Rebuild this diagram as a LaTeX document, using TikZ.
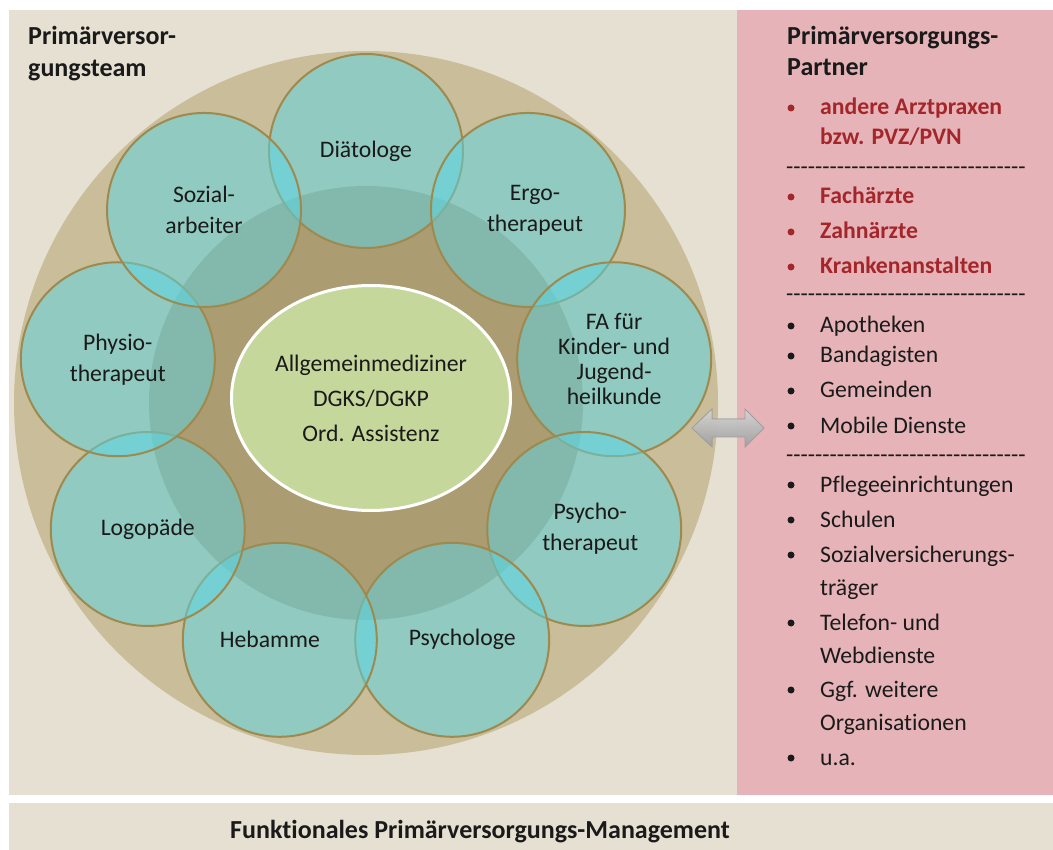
\documentclass[tikz,border=0pt]{standalone}
\usepackage{fontspec}
\setmainfont{Carlito}[Ligatures={NoCommon}]
\usetikzlibrary{shapes.geometric,calc}
\definecolor{panel}{HTML}{E6E0D2}
\definecolor{pinkp}{HTML}{E6B4B8}
\definecolor{ringtan}{HTML}{C9BD9A}
\definecolor{innertan}{HTML}{AB9C72}
\definecolor{tealc}{RGB}{90,215,230}
\definecolor{gold}{HTML}{9E8A4E}
\definecolor{hubgreen}{HTML}{C5D79B}
\definecolor{ink}{HTML}{1A1A1A}
\definecolor{redtext}{HTML}{A3262A}
\newcommand\hy{-\kern0pt}
\newcommand\hyrow{\hy\hy\hy\hy\hy\hy\hy\hy\hy\hy\hy\hy\hy\hy\hy\hy\hy\hy\hy\hy\hy\hy\hy\hy\hy\hy\hy\hy\hy\hy\hy\hy\hy}
\tikzset{
  member/.style={circle, minimum size=194pt, inner sep=0pt, fill=tealc, fill opacity=0.5,
    text opacity=1, draw=gold, line width=2pt, align=center, text=ink,
    font=\fontsize{23.7}{31}\selectfont},
  hub/.style={ellipse, minimum width=279pt, minimum height=225pt, inner sep=0pt,
    fill=hubgreen, draw=white, line width=3pt, align=center, text=ink,
    font=\fontsize{23.7}{35}\selectfont},
  head/.style={anchor=base west, inner sep=0pt, text=ink, font=\bfseries\fontsize{26}{30}\selectfont},
  item/.style={anchor=base west, inner sep=0pt, text=ink, font=\fontsize{23.7}{28}\selectfont},
  ritem/.style={anchor=base west, inner sep=0pt, text=redtext, font=\bfseries\fontsize{23.7}{28}\selectfont},
  bul/.style={circle, inner sep=0pt, minimum size=7pt, fill=#1},
  dashrow/.style={anchor=base west, inner sep=0pt, text=ink, font=\fontsize{23.7}{28}\selectfont},
}
\begin{document}
\begin{tikzpicture}[x=1pt,y=-1pt]
\useasboundingbox (0,0) rectangle (1053,850);
\fill[white] (0,0) rectangle (1053,850);
% panels
\fill[panel] (9,10) rectangle (737,795);
\fill[pinkp] (737,10) rectangle (1053,795);
\fill[panel] (9,803) rectangle (1053,850);
% big disks
\coordinate (c) at (366,403);
\fill[ringtan] (c) circle (352pt);
\fill[innertan] (c) circle (217pt);
% team members
\node[member] (dia)  at ($(c)+(90:252pt)$)   {Diätologe};
\node[member] (ergo) at ($(c)+(50:252pt)$)   {\kern14pt Ergo-\\\kern14pt therapeut};
\node[member, font=\fontsize{23.7}{25}\selectfont] (fa) at ($(c)+(10:252pt)$) {FA für\\Kinder- und\\Jugend-\\heilkunde};
\node[member] (psyt) at ($(c)+(-30:252pt)$)  {\kern12pt Psycho-\\\kern12pt therapeut};
\node[member] (psyl) at ($(c)+(-70:252pt)$)  {\kern20pt Psychologe};
\node[member] (heb)  at ($(c)+(-110:252pt)$) {Hebamme\kern20pt};
\node[member] (logo) at ($(c)+(-150:252pt)$) {Logopäde};
\node[member] (phys) at ($(c)+(170:252pt)$)  {Physio-\\therapeut};
\node[member] (soz)  at ($(c)+(130:252pt)$)  {Sozial-\\arbeiter};
% hub
\node[hub] (hub) at (371,398) {Allgemeinmediziner\\DGKS/DGKP\\Ord. Assistenz};
% left heading
\node[head] (lh1) at (28,45) {Primärversor-};
\node[head] (lh2) at (28,77) {gungsteam};
% double arrow
\filldraw[draw=gray!75, line width=0.8pt, top color=white, bottom color=gray!50, fill opacity=0.8]
  (692,428) -- (712,409) -- (712,419) -- (745,419) -- (745,409) -- (764,428)
  -- (745,447) -- (745,437) -- (712,437) -- (712,447) -- cycle;
% right panel
\node[head] (rh1) at (787,45) {Primärversorgungs-};
\node[head] (rh2) at (787,76) {Partner};
\node[ritem] (i1) at (820,115) {andere Arztpraxen};
\node[bul=redtext] (b1) at (791,108) {};
\node[ritem] (i1b) at (820,145) {bzw. PVZ/PVN};
\node[dashrow] (d1) at (786,175) {\hyrow};
\node[ritem] (i2) at (820,204) {Fachärzte};
\node[bul=redtext] (b2) at (791,197) {};
\node[ritem] (i3) at (820,239) {Zahnärzte};
\node[bul=redtext] (b3) at (791,232) {};
\node[ritem] (i4) at (820,274) {Krankenanstalten};
\node[bul=redtext] (b4) at (791,267) {};
\node[dashrow] (d2) at (786,302) {\hyrow};
\node[item] (i5) at (820,333) {Apotheken};
\node[bul=ink] (b5) at (791,326) {};
\node[item] (i6) at (820,363) {Bandagisten};
\node[bul=ink] (b6) at (791,356) {};
\node[item] (i7) at (820,398) {Gemeinden};
\node[bul=ink] (b7) at (791,391) {};
\node[item] (i8) at (820,433) {Mobile Dienste};
\node[bul=ink] (b8) at (791,426) {};
\node[dashrow] (d3) at (786,462) {\hyrow};
\node[item] (i9) at (820,492) {Pflegeeinrichtungen};
\node[bul=ink] (b9) at (791,485) {};
\node[item] (i10) at (820,527) {Schulen};
\node[bul=ink] (b10) at (791,520) {};
\node[item] (i11) at (820,562) {Sozialversicherungs-};
\node[bul=ink] (b11) at (791,555) {};
\node[item] (i11b) at (820,595) {träger};
\node[item] (i12) at (820,630) {Telefon- und};
\node[bul=ink] (b12) at (791,623) {};
\node[item] (i12b) at (820,663) {Webdienste};
\node[item] (i13) at (820,697) {Ggf. weitere};
\node[bul=ink] (b13) at (791,690) {};
\node[item] (i13b) at (820,730) {Organisationen};
\node[item] (i14) at (820,765) {u.a.};
\node[bul=ink] (b14) at (791,758) {};
% bottom bar
\node[anchor=base, inner sep=0pt, text=ink, font=\bfseries\fontsize{26}{30}\selectfont] (foot) at (480,838) {Funktionales Primärversorgungs-Management};
\end{tikzpicture}
\end{document}
